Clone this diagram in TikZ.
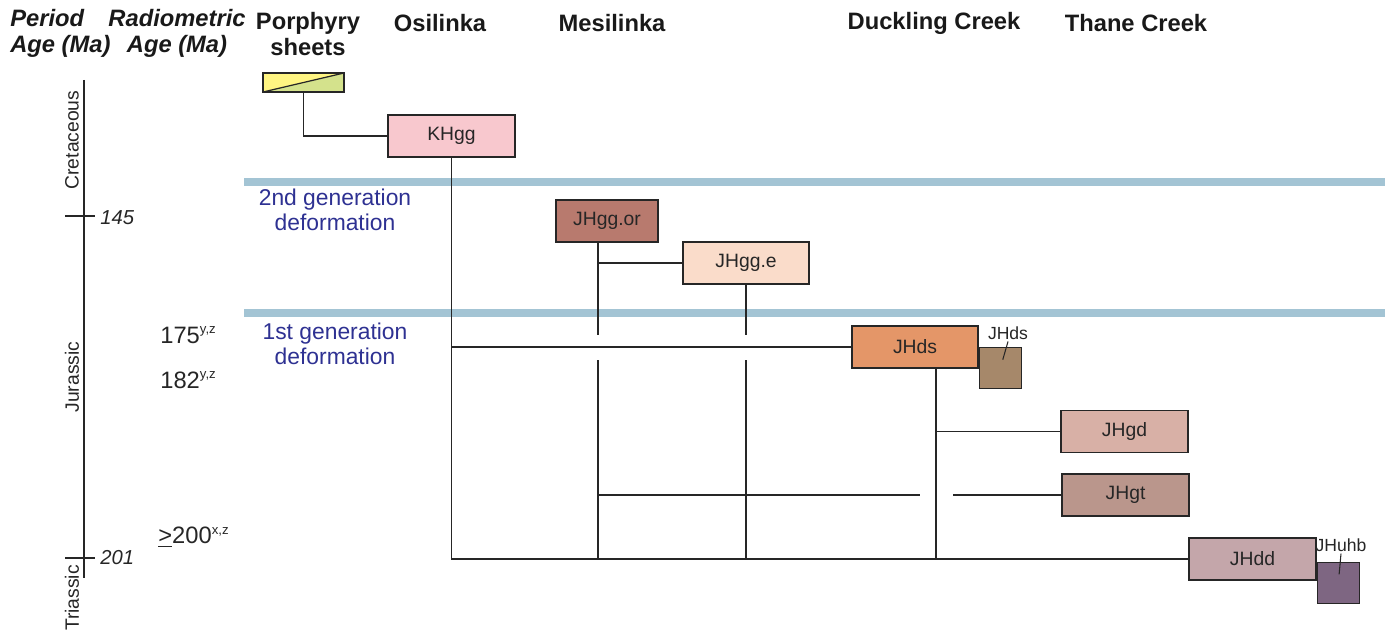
\documentclass[tikz,border=0pt]{standalone}
\usepackage{fontspec}
\setmainfont{Liberation Sans}
\usepackage{tikz}
\usetikzlibrary{positioning}
\usepackage{xcolor}
\definecolor{porYellow}{RGB}{255,245,130}
\definecolor{porGreen}{RGB}{212,226,140}
\definecolor{cKHgg}{RGB}{248,200,206}
\definecolor{cJHggor}{RGB}{184,122,110}
\definecolor{cJHgge}{RGB}{250,220,202}
\definecolor{cJHds}{RGB}{228,150,104}
\definecolor{cJHdsS}{RGB}{166,136,106}
\definecolor{cJHgd}{RGB}{216,176,166}
\definecolor{cJHgt}{RGB}{186,150,140}
\definecolor{cJHdd}{RGB}{196,166,170}
\definecolor{cJHuhb}{RGB}{126,102,130}
\definecolor{bandblue}{RGB}{163,196,212}
\definecolor{genblue}{RGB}{46,49,146}
\newcommand{\supx}[1]{\raisebox{0.75ex}{\fontsize{7.5}{8}\selectfont #1}}
\tikzstyle{block} = [rectangle, draw=black!85, line width=0.75pt, text=black!85, minimum width=2.54cm, minimum height=0.84cm, inner sep=0pt, font=\fontsize{11}{13}\selectfont]
\tikzstyle{smallbox} = [rectangle, draw=black!85, line width=0.75pt, minimum width=0.84cm, minimum height=0.82cm, inner sep=0pt, anchor=north west]
\tikzstyle{tag} = [font=\fontsize{10}{12}\selectfont, text=black!85, inner sep=1pt]
\tikzstyle{head} = [font=\fontsize{13.5}{14.8}\selectfont\bfseries, align=center, text=black!90, inner sep=0pt]
\tikzstyle{period} = [font=\fontsize{11}{13}\selectfont, text=black!85, rotate=90, inner sep=0pt]
\tikzstyle{age} = [font=\fontsize{11.5}{13}\selectfont\itshape, text=black!85, anchor=west, inner sep=0pt]
\tikzstyle{radio} = [font=\fontsize{13.5}{15}\selectfont, text=black!85, anchor=west, inner sep=0pt]
\tikzstyle{gen} = [font=\fontsize{13}{14.2}\selectfont, text=genblue, align=center, inner sep=0pt]
\tikzstyle{band} = [draw=bandblue, line width=4pt]
\tikzstyle{line} = [draw, line width=0.95pt, color=black!85]

\begin{document}
\begin{tikzpicture}[x=0.02cm, y=-0.02cm]
  	\useasboundingbox (0,0) rectangle (1388,635);
  	%% column heads
  	\node[head, anchor=west, align=left, font=\fontsize{13.5}{14.8}\selectfont\bfseries\itshape] (hPer) at (10,33) {Period\\Age (Ma)};
  	\node[head, font=\fontsize{13.5}{14.8}\selectfont\bfseries\itshape] (hRad) at (177,33) {Radiometric\\Age (Ma)};
  	\node[head] (hPor) at (308,34) {Porphyry\\sheets};
  	\node[head] (hOsi) at (440,23) {Osilinka};
  	\node[head] (hMes) at (612,23) {Mesilinka};
  	\node[head] (hDuc) at (934,23) {Duckling Creek};
  	\node[head] (hTha) at (1136,23) {Thane Creek};
  	%% time axis
  	\draw[line, line width=0.7pt] (84,80) -- (84,578);
  	\draw[line, line width=0.7pt] (65,216) -- (95,216);
  	\draw[line, line width=0.7pt] (65,558) -- (95,558);
  	\node[age] (a145) at (100,218) {145};
  	\node[age] (a201) at (100,558) {201};
  	\node[period] (pCre) at (72,140) {Cretaceous};
  	\node[period] (pJur) at (72,377) {Jurassic};
  	\node[period] (pTri) at (72,598) {Triassic};
  	%% radiometric ages
  	\node[radio] (r175) at (160,335) {175\supx{y,z}};
  	\node[radio] (r182) at (160,380) {182\supx{y,z}};
  	\node[radio] (r200) at (158,537) {\underline{>}200\supx{x,z}};
  	%% deformation bands
  	\draw[band] (244,182) -- (1385,182);
  	\draw[band] (244,313) -- (1385,313);
  	\node[gen] (g2) at (335,210) {2nd generation\\deformation};
  	\node[gen] (g1) at (335,344) {1st generation\\deformation};
  	%% Porphyry sheets
  	\node[rectangle, draw=black!85, line width=0.75pt, minimum width=1.62cm, minimum height=0.38cm, inner sep=0pt,
  	  path picture={
  	    \fill[porYellow] (path picture bounding box.north west) rectangle (path picture bounding box.south east);
  	    \fill[porGreen] (path picture bounding box.south west) -- (path picture bounding box.north east) -- (path picture bounding box.south east) -- cycle;
  	    \draw[line width=0.7pt, black!85] (path picture bounding box.south west) -- (path picture bounding box.north east);}] (por) at (303.5,82.5) {};
  	%% Osilinka
  	\node[block, fill=cKHgg] (KHgg) at (451.5,136) {KHgg};
  	%% Mesilinka
  	\node[block, fill=cJHggor, minimum width=2.04cm] (JHggor) at (607,221) {JHgg.or};
  	\node[block, fill=cJHgge, minimum width=2.52cm] (JHgge) at (746,263) {JHgg.e};
  	%% Duckling Creek
  	\node[block, fill=cJHds, minimum width=2.52cm] (JHds) at (915,347) {JHds};
  	\node[smallbox, fill=cJHdsS] (sJHds) at (JHds.east) {};
  	\node[tag] (lJHds) at (1008,333) {JHds};
  	%% Thane Creek
  	\node[block, fill=cJHgd] (JHgd) at (1124.5,431.5) {JHgd};
  	\node[block, fill=cJHgt] (JHgt) at (1125.5,495) {JHgt};
  	\node[block, fill=cJHdd] (JHdd) at (1252.5,559) {JHdd};
  	\node[smallbox, fill=cJHuhb] (sJHuhb) at ([yshift=-0.06cm]JHdd.east) {};
  	\node[tag] (lJHuhb) at (1341,545) {JHuhb};
  	%% helper points
  	\coordinate (gapA) at (0,335);
  	\coordinate (gapB) at (0,360);
  	\coordinate (gapL) at (920,0);
  	\coordinate (gapR) at (953,0);
  	\coordinate (orfoot) at (598,242);
  	\coordinate (dsfoot) at (936,368);
  	%% edges
  	\path[line] (por.south) |- (KHgg.west);
  	\path[line] (KHgg.south) |- (JHdd.west);
  	\path[line] (KHgg.south |- JHds.west) -- (JHds.west);
  	\path[line] (orfoot) -- (orfoot |- gapA);
  	\path[line] (orfoot |- gapB) -- (orfoot |- JHdd.west);
  	\path[line] (orfoot |- JHgge.west) -- (JHgge.west);
  	\path[line] (JHgge.south) -- (JHgge.south |- gapA);
  	\path[line] (JHgge.south |- gapB) -- (JHgge.south |- JHdd.west);
  	\path[line] (dsfoot) -- (dsfoot |- JHdd.west);
  	\path[line] (dsfoot |- JHgd.west) -- (JHgd.west);
  	\path[line] (orfoot |- JHgt.west) -- (gapL |- JHgt.west);
  	\path[line] (gapR |- JHgt.west) -- (JHgt.west);
  	\path[line, line width=0.6pt, shorten >=5pt] (lJHds.south) -- (sJHds.center);
  	\path[line, line width=0.6pt, shorten >=5pt] (lJHuhb.south) -- (sJHuhb.center);
\end{tikzpicture}
\end{document}
